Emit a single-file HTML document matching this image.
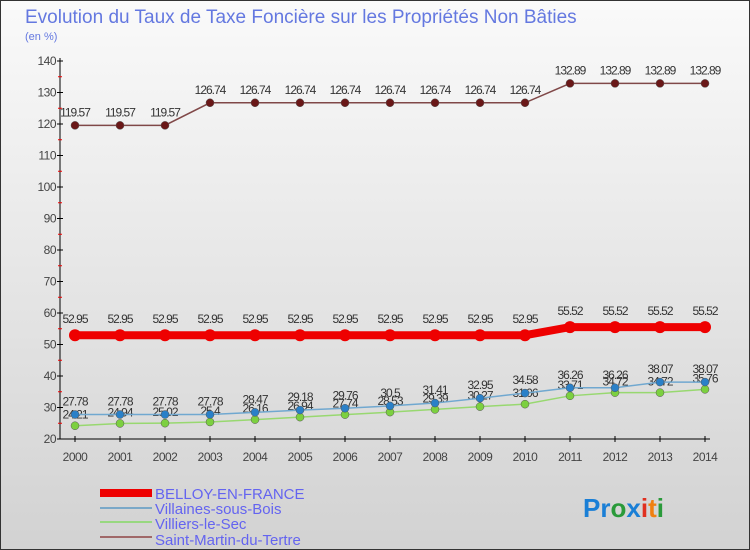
<!DOCTYPE html>
<html><head><meta charset="utf-8"><style>
body{margin:0;width:750px;height:550px;overflow:hidden;font-family:"Liberation Sans",sans-serif}
svg{display:block}
</style></head><body>
<svg id="chart" width="750" height="550" xmlns="http://www.w3.org/2000/svg">
<defs><linearGradient id="bg" x1="0" y1="0" x2="0" y2="1"><stop offset="0" stop-color="#fafafa"/><stop offset="1" stop-color="#d2d2d2"/></linearGradient></defs>
<rect x="0.5" y="0.5" width="749" height="549" fill="url(#bg)" stroke="#333"/>
<text x="25" y="23" font-size="19" fill="#6478e0">Evolution du Taux de Taxe Foncière sur les Propriétés Non Bâties</text>
<text x="25" y="40" font-size="11" fill="#6478e0">(en %)</text>
<g id="axes"></g><g id="series"></g>
<g>
<rect x="100" y="489" width="52" height="8" fill="#e00"/>
<text x="155" y="499" font-size="15" fill="#6464f0">BELLOY-EN-FRANCE</text>
<rect x="100" y="507" width="52" height="2" fill="#7aa8c8"/>
<text x="155" y="514" font-size="15" fill="#6464f0">Villaines-sous-Bois</text>
<rect x="100" y="521" width="52" height="2" fill="#98d880"/>
<text x="155" y="529" font-size="15" fill="#6464f0">Villiers-le-Sec</text>
<rect x="100" y="536" width="52" height="2" fill="#a06868"/>
<text x="155" y="545" font-size="15" fill="#6464f0">Saint-Martin-du-Tertre</text>
</g>
<text x="583" y="517" font-size="26" font-weight="bold"><tspan fill="#1a7fd6">Pr</tspan><tspan fill="#2a9a3a">o</tspan><tspan fill="#1a7fd6">x</tspan><tspan fill="#e03020">i</tspan><tspan fill="#f08010">t</tspan><tspan fill="#2a9a3a">i</tspan></text>
</svg>
<script>
const years=[2000,2001,2002,2003,2004,2005,2006,2007,2008,2009,2010,2011,2012,2013,2014];
const yTicks=[20,30,40,50,60,70,80,90,100,110,120,130,140];
const belloy=[52.95,52.95,52.95,52.95,52.95,52.95,52.95,52.95,52.95,52.95,52.95,55.52,55.52,55.52,55.52];
const villaines=[27.78,27.78,27.78,27.78,28.47,29.18,29.76,30.5,31.41,32.95,34.58,36.26,36.26,38.07,38.07];
const villiers=[24.21,24.94,25.02,25.4,26.16,26.94,27.74,28.53,29.39,30.27,31.06,33.71,34.72,34.72,35.76];
const saintMartin=[119.57,119.57,119.57,126.74,126.74,126.74,126.74,126.74,126.74,126.74,126.74,132.89,132.89,132.89,132.89];
const NS="http://www.w3.org/2000/svg";
const xs=i=>75+i*(630/(years.length-1));
const ys=v=>439-(v-20)*378/120;
function mk(tag,attrs,parent,txt){const e=document.createElementNS(NS,tag);for(const k in attrs)e.setAttribute(k,attrs[k]);if(txt!==undefined)e.textContent=txt;parent.appendChild(e);return e;}
const ax=document.getElementById('axes');
let e=mk('line',{x1:60,y1:58,x2:60,y2:439,stroke:'#000'},ax);


e=mk('line',{x1:60,y1:439,x2:710,y2:439,stroke:'#000'},ax);


yTicks.forEach((t,i)=>{
  mk('line',{x1:57,y1:ys(t),x2:63,y2:ys(t),stroke:'#000'},ax);
  if(i<yTicks.length-1) mk('line',{x1:58,y1:ys(t+5),x2:62,y2:ys(t+5),stroke:'#e00'},ax);
  const l=mk('text',{x:56,y:ys(t)+4,'font-size':12,fill:'#444','text-anchor':'end','letter-spacing':'-0.5'},ax,t);
  
  
});
years.forEach((y,i)=>{
  mk('line',{x1:xs(i),y1:436,x2:xs(i),y2:442,stroke:'#000'},ax);
  const l=mk('text',{x:xs(i),y:461,'font-size':12,fill:'#444','text-anchor':'middle','letter-spacing':'-0.5'},ax,y);
  
  
});
const sg=document.getElementById('series');
function draw(vals,name,color,w,r,dot,lblDy){
  const g=mk('g',{},sg);
  
  
  const p=mk('polyline',{points:vals.map((v,i)=>xs(i)+','+ys(v)).join(' '),fill:'none',stroke:color,'stroke-width':w},g);
  
  
  vals.forEach((v,i)=>{
    const c=mk('circle',{cx:xs(i),cy:ys(v),r:r,fill:dot,stroke:w>3?'none':'#555','stroke-width':0.5},g);
    
    
    const t=mk('text',{x:xs(i),y:ys(v)+lblDy,'font-size':12,fill:'#333','text-anchor':'middle','letter-spacing':'-1'},g,String(v).replace(/\.?0+$/,''));
    
    
  });
}
draw(villiers,'villiers-le-sec','#98d870',1.5,4,'#7cd040',-7);
draw(villaines,'villaines-sous-bois','#70a8d0',1.5,4,'#2a80c8',-9);
draw(belloy,'belloy-en-france','#ee0000',8,6,'#ee0000',-12);
draw(saintMartin,'saint-martin-du-tertre','#804848',1.5,4,'#6a1818',-9);
</script>
</body></html>
